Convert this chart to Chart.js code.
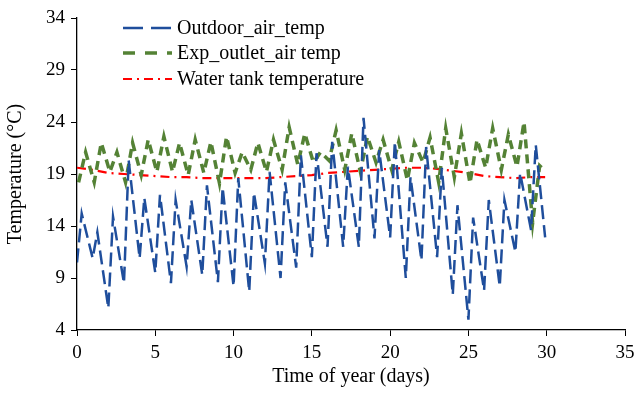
<!DOCTYPE html>
<html>
<head>
<meta charset="utf-8">
<script src="https://cdn.jsdelivr.net/npm/chart.js@4"></script>
<style>
  html, body { margin: 0; padding: 0; background: #fff; }
  #wrap { width: 635px; height: 393px; }
</style>
</head>
<body>
<div id="wrap"><canvas id="chart" width="635" height="393"></canvas></div>
<script>
// daily values (day index 0..29)
const days = [0,1,2,3,4,5,6,7,8,9,10,11,12,13,14,15,16,17,18,19,20,21,22,23,24,25,26,27,28,29];

// outdoor air: night low / afternoon high
const outdoorLow  = [10.5,10.9,6.1,8.5,10.9,9.5,8.5,10.1,9.3,8.6,8.2,7.7,10.4,9.0,10.0,11.0,12.0,12.0,12.0,12.8,12.9,9.0,10.7,11.0,7.4,5.0,7.8,8.2,11.5,13.6];
const outdoorHigh = [15.2,13.4,14.9,20.3,16.7,17.0,16.5,16.5,17.9,17.7,18.6,17.2,19.2,18.2,20.8,21.0,22.1,19.7,24.4,21.3,22.1,18.7,21.6,19.6,16.0,14.8,16.5,16.5,19.1,21.8];
const outdoorEnd = 12.9;

// exp outlet air
const outletLow  = [18.2,18.2,19.2,18.2,18.9,19.2,19.2,18.9,19.1,18.1,19.1,19.4,19.2,19.4,19.9,20.1,20.3,19.4,19.2,20.1,19.4,18.4,20.1,18.2,18.7,18.1,19.6,19.4,19.7,14.3];
const outletHigh = [21.1,22.0,21.1,22.0,22.3,22.6,22.0,22.3,22.1,22.6,21.1,22.0,22.3,23.5,22.9,21.1,23.2,22.9,22.6,22.3,22.1,22.0,22.5,23.4,22.9,22.3,23.4,22.8,24.0,19.8];
const outletEnd = 19.3;

// water tank
const tankTemp = [19.6,19.4,19.1,19.0,18.9,18.8,18.7,18.7,18.6,18.6,18.6,18.6,18.6,18.7,18.8,18.9,19.1,19.2,19.3,19.4,19.5,19.6,19.6,19.5,19.3,19.1,18.8,18.7,18.6,18.7];
const tankEnd = 18.7;

const xTicks = [0,5,10,15,20,25,30,35];
const yTicks = [4,9,14,19,24,29,34];
const seriesNames = ['Outdoor_air_temp', 'Exp_outlet_air temp', 'Water tank temperature'];

const toPoints = (lows, highs, lowAt, highAt, end) => {
  const pts = [];
  days.forEach((d, i) => {
    pts.push({x: d + lowAt, y: lows[i]});
    pts.push({x: d + highAt, y: highs[i]});
  });
  pts.push({x: 29.9, y: end});
  return pts;
};

const outdoorPts = toPoints(outdoorLow, outdoorHigh, 0, 0.3, outdoorEnd);
const outletPts = toPoints(outletLow, outletHigh, 0.1, 0.55, outletEnd);
const tankPts = days.map((d, i) => ({x: d, y: tankTemp[i]})).concat([{x: 29.9, y: tankEnd}]);

const serif = "'Liberation Serif', 'Times New Roman', serif";

// legend drawn inside the plot, top-left
const insideLegend = {
  id: 'insideLegend',
  afterDraw(chart) {
    const ctx = chart.ctx;
    const x0 = 123, x1 = 172, tx = 177;
    const rows = [28, 53, 79];
    ctx.save();
    chart.data.datasets.forEach((ds, i) => {
      ctx.beginPath();
      ctx.setLineDash(ds.legendDash || ds.borderDash || []);
      ctx.strokeStyle = ds.borderColor;
      ctx.lineWidth = ds.borderWidth;
      ctx.moveTo(x0, rows[i]);
      ctx.lineTo(x1, rows[i]);
      ctx.stroke();
      ctx.setLineDash([]);
      ctx.fillStyle = '#000';
      ctx.font = '20px ' + serif;
      ctx.textBaseline = 'middle';
      ctx.fillText(ds.label, tx, rows[i] + 1);
    });
    ctx.restore();
  }
};

const ctx = document.getElementById('chart').getContext('2d');
new Chart(ctx, {
  type: 'line',
  data: {
    datasets: [
      {
        label: seriesNames[0],
        data: outdoorPts,
        borderColor: '#1F4E9C',
        borderWidth: 2.5,
        borderDash: [14, 6],
        legendDash: [20, 8],
        pointRadius: 0,
        tension: 0,
        fill: false
      },
      {
        label: seriesNames[1],
        data: outletPts,
        borderColor: '#548235',
        borderWidth: 3.5,
        borderDash: [9, 6],
        legendDash: [12, 10],
        pointRadius: 0,
        tension: 0,
        fill: false
      },
      {
        label: seriesNames[2],
        data: tankPts,
        borderColor: '#FF0000',
        borderWidth: 2.2,
        borderDash: [9, 5, 2, 5],
        pointRadius: 0,
        tension: 0,
        fill: false
      }
    ]
  },
  options: {
    responsive: false,
    animation: false,
    layout: { padding: { top: 18, right: 0, left: 0, bottom: 0 } },
    plugins: {
      legend: { display: false },
      tooltip: { enabled: false }
    },
    scales: {
      x: {
        type: 'linear',
        min: 0,
        max: 35,
        afterBuildTicks: s => { s.ticks = xTicks.map(v => ({value: v})); },
        ticks: { color: '#000', font: { family: serif, size: 19 }, padding: 6, maxRotation: 0 },
        grid: { display: true, drawOnChartArea: false, color: '#000', tickLength: 6 },
        border: { color: '#000', width: 1.3 },
        title: { display: true, text: 'Time of year (days)', color: '#000', font: { family: serif, size: 20 }, padding: { top: 5 } },
        afterFit: s => { s.height = 63; s.paddingRight = 10; }
      },
      y: {
        min: 4,
        max: 34,
        afterBuildTicks: s => { s.ticks = yTicks.map(v => ({value: v})); },
        ticks: { color: '#000', font: { family: serif, size: 19 }, padding: 6 },
        grid: { display: true, drawOnChartArea: false, color: '#000', tickLength: 6 },
        border: { color: '#000', width: 1.3 },
        title: { display: true, text: 'Temperature (°C)', color: '#000', font: { family: serif, size: 20 }, padding: { bottom: 0 } },
        afterFit: s => { s.width = 77; }
      }
    }
  },
  plugins: [insideLegend]
});
</script>
</body>
</html>
